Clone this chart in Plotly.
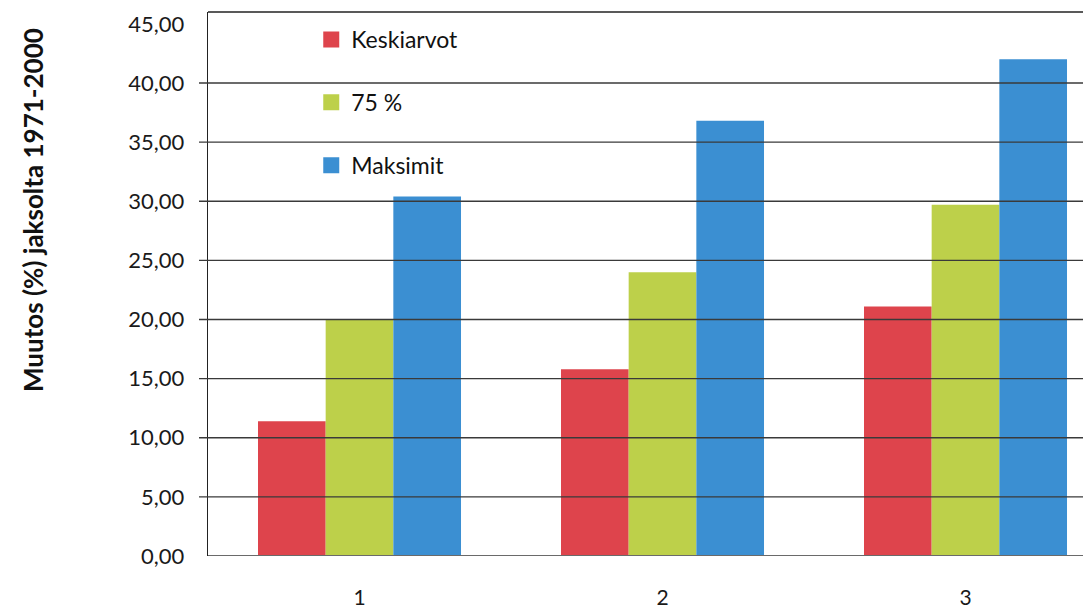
import plotly.graph_objects as go

# Data
categories = [1, 2, 3]
category_labels = ["1", "2", "3"]
series_names = ["Keskiarvot", "75 %", "Maksimit"]
keskiarvot = [11.4, 15.8, 21.1]
p75 = [20.0, 24.0, 29.7]
maksimit = [30.4, 36.8, 42.0]
y_ticks = [0, 5, 10, 15, 20, 25, 30, 35, 40, 45]
y_tick_labels = ["0,00", "5,00", "10,00", "15,00", "20,00", "25,00",
                 "30,00", "35,00", "40,00", "45,00"]
grid_levels = [5, 10, 15, 20, 25, 30, 35, 40]
y_title = "Muutos (%) jaksolta 1971-2000"

colors = ["#DE444C", "#BDD04A", "#3B8FD2"]
series_values = [keskiarvot, p75, maksimit]

W, H = 1083, 610
ML, MR, MT, MB = 208, 0, 12, 54
plot_w = W - ML - MR
plot_h = H - MT - MB
cat_px = 303  # pixel spacing of one category

fig = go.Figure()

for name, vals, col in zip(series_names, series_values, colors):
    fig.add_trace(go.Bar(
        x=categories, y=vals, name=name, showlegend=False,
        marker=dict(color=col, line=dict(width=0)),
    ))

# legend entries with square swatches
for i, (name, col) in enumerate(zip(series_names, colors)):
    fig.add_trace(go.Scatter(
        x=[None], y=[None], mode="markers", name=name,
        legendgroup=f"g{i}",
        marker=dict(symbol="square", size=16, color=col),
    ))

# horizontal grid lines drawn over the bars, extending left as ticks
tick_len = 9
for v in grid_levels:
    fig.add_shape(type="line", xref="paper", yref="y",
                  x0=-tick_len / plot_w, x1=1, y0=v, y1=v,
                  line=dict(color="#3a3a3a", width=1.4), layer="above")

# top frame line
fig.add_shape(type="line", xref="paper", yref="paper",
              x0=0, x1=1, y0=1, y1=1,
              line=dict(color="#222222", width=1.4), layer="above")
# bottom axis line
fig.add_shape(type="line", xref="paper", yref="y",
              x0=0, x1=1, y0=0, y1=0,
              line=dict(color="#6a6a6a", width=2), layer="above")

fig.update_layout(
    width=W, height=H,
    margin=dict(l=ML, r=MR, t=MT, b=MB),
    paper_bgcolor="white", plot_bgcolor="white",
    barmode="group", bargap=0.33, bargroupgap=0,
    font=dict(family="Lato", size=20, color="#1a1a1a"),
    legend=dict(
        x=0.118, y=1 - (18 - MT) / plot_h, xanchor="left", yanchor="top",
        font=dict(family="Lato", size=23, color="#111111"),
        tracegroupgap=30, traceorder="grouped",
        bgcolor="rgba(0,0,0,0)",
    ),
    xaxis=dict(
        range=[0.5, 0.5 + plot_w / cat_px],
        tickvals=categories, ticktext=category_labels,
        showgrid=False, zeroline=False, showline=False, ticks="",
        ticklabelstandoff=27,
        tickfont=dict(family="Lato", size=21, color="#1a1a1a"),
    ),
    yaxis=dict(
        range=[0, 46],
        tickvals=y_ticks, ticktext=y_tick_labels,
        showgrid=False, zeroline=False,
        showline=True, linecolor="#222222", linewidth=1.4,
        ticks="", ticklabelstandoff=18,
        tickfont=dict(family="Lato", size=22, color="#1a1a1a"),
    ),
    annotations=[dict(
        text=f"<b>{y_title}</b>", textangle=-90,
        xref="paper", yref="paper",
        x=(33 - ML) / plot_w, y=1 - (210 - MT) / plot_h,
        xanchor="center", yanchor="middle", showarrow=False,
        font=dict(family="Lato", size=26, color="#111111"),
    )],
)

fig.write_html("out.html")
